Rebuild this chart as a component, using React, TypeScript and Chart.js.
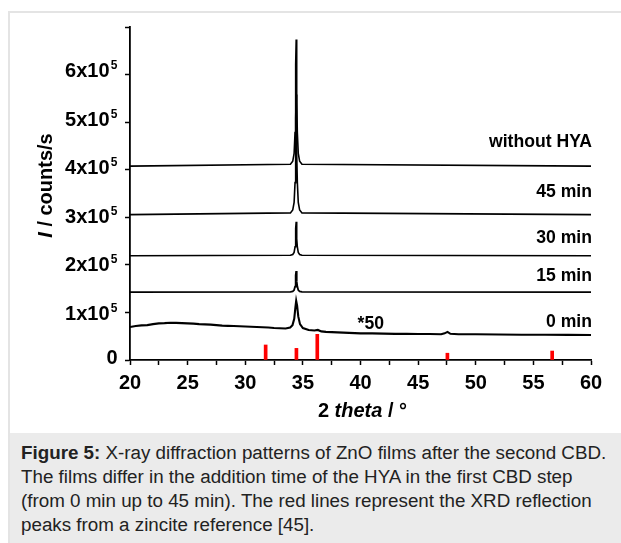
import React, { useEffect, useRef } from 'react';
import { Chart, registerables } from 'chart.js';

Chart.register(...registerables);

const FONT = '"Liberation Sans", Arial, Helvetica, sans-serif';

// ---- axis ticks ----
const xTickLabels = [20, 25, 30, 35, 40, 45, 50, 55, 60];
const yTickValues = [0, 100000, 200000, 300000, 400000, 500000, 600000];
const yTickMantissa = ['0', '1', '2', '3', '4', '5', '6'];

// ---- XRD patterns (offset curves) ----
const peakX = [20, 33.92, 34.12, 34.24, 34.32, 34.36, 34.39, 34.42, 34.45, 34.48, 34.52, 34.6, 34.72, 34.92, 60];
const withoutHYA = [400000, 403700, 410000, 426000, 469000, 531000, 609000, 661000, 609000, 531000, 469000, 426000, 410000, 403700, 400000];
const min45 = [300000, 303500, 309400, 325000, 366000, 424000, 498000, 548000, 498000, 424000, 366000, 325000, 309400, 303500, 300000];
const min30 = [215000, 216000, 217700, 222000, 233500, 250000, 271000, 285000, 271000, 250000, 233500, 222000, 217700, 216000, 215000];
const min15 = [140000, 140600, 141600, 144300, 151500, 161700, 174800, 183500, 174800, 161700, 151500, 144300, 141600, 140600, 140000];

const min0X = [20, 20.5, 21, 21.5, 22, 22.5, 23, 23.5, 24, 24.5, 25, 25.5, 26, 26.5, 27, 27.5, 28, 28.5, 29, 29.5, 30, 30.5, 31, 31.5, 32, 32.5, 33, 33.5, 33.9, 34.1, 34.25, 34.35, 34.42, 34.5, 34.6, 34.75, 35, 35.5, 36, 36.3, 36.6, 37, 38, 39, 40, 41, 42, 43, 44, 45, 46, 47, 47.3, 47.55, 47.8, 48.5, 50, 52, 54, 56, 58, 60];
const min0Y = [68000, 70000, 71500, 72000, 74000, 75500, 76000, 77000, 76500, 76000, 75500, 75000, 74000, 73500, 73000, 72000, 71000, 70500, 70000, 69500, 69000, 68500, 68000, 67500, 67000, 66000, 65500, 65000, 67000, 72000, 85000, 108000, 122000, 112000, 90000, 74000, 66000, 62000, 61000, 62000, 59000, 58000, 57000, 56000, 55000, 55000, 54500, 54000, 54000, 53500, 53500, 53000, 55000, 58000, 54000, 53000, 53000, 52500, 52000, 52000, 51800, 51500];

// ---- zincite reference reflections ----
const refX = [31.77, 34.44, 36.25, 47.54, 56.63];
const refY = [31000, 24000, 53000, 14000, 18500];

// ---- curve annotations (x = right edge / left edge, y = text baseline) ----
const curveLabels = ['without HYA', '45 min', '30 min', '15 min', '0 min'];
const curveLabelY = [438500, 335500, 242000, 163500, 67400];
const scaleNote = '*50';
const scaleNoteX = 39.75;
const scaleNoteY = 63300;

const xTitleParts = [
  { t: '2 ', italic: false },
  { t: 'theta', italic: true },
  { t: ' / °', italic: false },
];
const yTitleParts = [
  { t: 'I', italic: true },
  { t: ' / counts/s', italic: false },
];

function drawParts(ctx: CanvasRenderingContext2D, parts: { t: string; italic: boolean }[], cx: number, y: number, size: number) {
  let total = 0;
  const widths = parts.map((p) => {
    ctx.font = `${p.italic ? 'italic ' : ''}bold ${size}px ${FONT}`;
    const w = ctx.measureText(p.t).width;
    total += w;
    return w;
  });
  let x = cx - total / 2;
  parts.forEach((p, i) => {
    ctx.font = `${p.italic ? 'italic ' : ''}bold ${size}px ${FONT}`;
    ctx.textAlign = 'left';
    ctx.textBaseline = 'alphabetic';
    ctx.fillText(p.t, x, y);
    x += widths[i];
  });
}

const textPlugin = {
  id: 'textPlugin',
  afterDraw(chart: any) {
    const ctx: CanvasRenderingContext2D = chart.ctx;
    const xs = chart.scales.x;
    const ys = chart.scales.y;
    const area = chart.chartArea;
    ctx.save();
    ctx.fillStyle = '#000';

    // x tick labels
    ctx.font = `bold 20px ${FONT}`;
    ctx.textAlign = 'center';
    ctx.textBaseline = 'alphabetic';
    xTickLabels.forEach((v) => {
      ctx.fillText(String(v), xs.getPixelForValue(v), area.bottom + 28.5);
    });

    // y tick labels
    yTickValues.forEach((v, i) => {
      const py = ys.getPixelForValue(v);
      if (v === 0) {
        ctx.font = `bold 20px ${FONT}`;
        ctx.textAlign = 'right';
        ctx.fillText(yTickMantissa[i], area.left - 12.5, py + 3.5);
      } else {
        ctx.font = `bold 20px ${FONT}`;
        ctx.textAlign = 'right';
        const mainRight = area.left - 20.5;
        ctx.fillText(yTickMantissa[i] + 'x10', mainRight, py + 8);
        ctx.font = `bold 12px ${FONT}`;
        ctx.textAlign = 'left';
        ctx.fillText('5', mainRight + 1.3, py);
      }
    });

    // curve labels
    ctx.font = `bold 17.6px ${FONT}`;
    ctx.textAlign = 'right';
    curveLabels.forEach((l, i) => {
      ctx.fillText(l, area.right + 1, ys.getPixelForValue(curveLabelY[i]));
    });
    ctx.textAlign = 'left';
    ctx.fillText(scaleNote, xs.getPixelForValue(scaleNoteX), ys.getPixelForValue(scaleNoteY));

    // axis titles
    drawParts(ctx, xTitleParts, (area.left + area.right) / 2 + 2, area.bottom + 56.7, 20);
    ctx.save();
    ctx.translate(52, (area.top + area.bottom) / 2 - 8);
    ctx.rotate(-Math.PI / 2);
    drawParts(ctx, yTitleParts, 0, 0, 20);
    ctx.restore();

    ctx.restore();
  },
};

export default function App() {
  const ref = useRef<HTMLCanvasElement>(null);

  useEffect(() => {
    const canvas = ref.current;
    if (!canvas) return;
    const line = (xsArr: number[], ysArr: number[], w: number) => ({
      type: 'line' as const,
      data: xsArr.map((x, i) => ({ x, y: ysArr[i] })),
      borderColor: '#000',
      borderWidth: w,
      pointRadius: 0,
      tension: 0,
      fill: false,
    });
    const chart = new Chart(canvas, {
      type: 'line',
      data: {
        datasets: [
          line(peakX, withoutHYA, 1.6),
          line(peakX, min45, 1.6),
          line(peakX, min30, 1.6),
          line(peakX, min15, 1.8),
          line(min0X, min0Y, 2.1),
          {
            type: 'bar' as const,
            data: refX.map((x, i) => ({ x, y: refY[i] })),
            backgroundColor: '#ff0000',
            borderWidth: 0,
            barThickness: 3,
          } as any,
        ],
      },
      options: {
        animation: false,
        responsive: false,
        maintainAspectRatio: false,
        layout: { padding: { left: 0, right: 30, top: 27, bottom: 0 } },
        plugins: { legend: { display: false }, tooltip: { enabled: false } },
        scales: {
          x: {
            type: 'linear',
            min: 20,
            max: 60,
            offset: false,
            ticks: { display: false, stepSize: 2.5 },
            grid: { display: true, offset: false, drawOnChartArea: false, drawTicks: true, tickLength: 5, color: '#000', tickWidth: 1.5 },
            border: { display: true, color: '#000', width: 1.8 },
            afterFit: (s: any) => { s.height = 73; },
          },
          y: {
            type: 'linear',
            min: 0,
            max: 687000,
            ticks: { display: false, stepSize: 100000, includeBounds: false },
            grid: { display: true, drawOnChartArea: false, drawTicks: true, tickLength: 5, color: '#000', tickWidth: 1.5 },
            border: { display: true, color: '#000', width: 1.8 },
            afterFit: (s: any) => { s.width = 130; },
          },
        },
      } as any,
      plugins: [textPlugin],
    });
    return () => chart.destroy();
  }, []);

  return (
    <div style={{ position: 'fixed', left: 0, top: 0, width: 621, height: 543, background: '#fff', overflow: 'hidden' }}>
      <div style={{ position: 'absolute', left: 8, top: 11, width: 620, height: 540, borderTop: '2px solid #e4e4e4', borderLeft: '2px solid #e4e4e4' }} />
      <div
        style={{
          position: 'absolute',
          left: 10,
          top: 433,
          width: 611,
          height: 110,
          background: '#ebebeb',
          boxSizing: 'border-box',
          padding: '8px 0 0 11px',
          fontFamily: FONT,
          fontSize: 18.8,
          lineHeight: '24px',
          color: '#222',
          whiteSpace: 'nowrap',
        }}
      >
        <b>Figure 5:</b> X-ray diffraction patterns of ZnO films after the second CBD.<br />
        The films differ in the addition time of the HYA in the first CBD step<br />
        (from 0 min up to 45 min). The red lines represent the XRD reflection<br />
        peaks from a zincite reference [45].
      </div>
      <canvas ref={ref} width={621} height={433} style={{ position: 'absolute', left: 0, top: 0, width: 621, height: 433 }} />
    </div>
  );
}
